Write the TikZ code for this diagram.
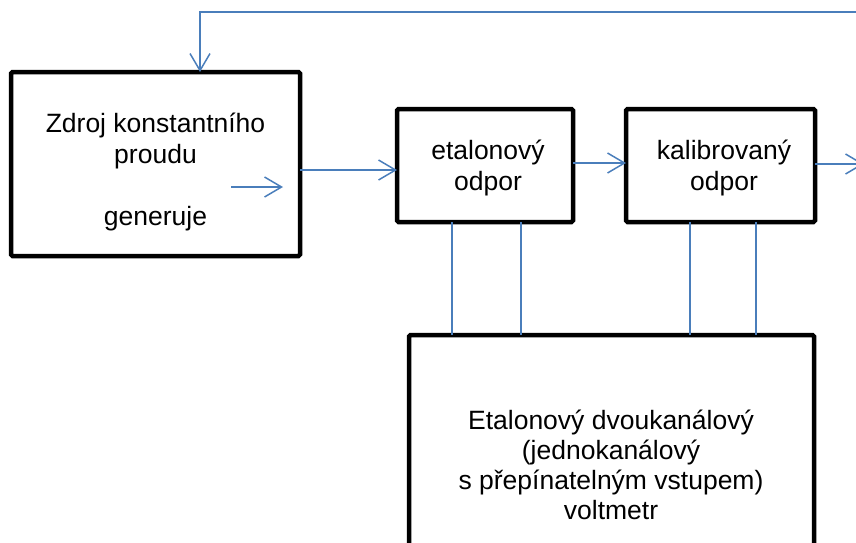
\documentclass[tikz,border=0pt]{standalone}
\usepackage{fontspec}
\setmainfont{Liberation Sans}
\usetikzlibrary{arrows.meta}
\definecolor{wireblue}{RGB}{74,126,187}
\tikzset{
  blockbox/.style={draw=black, line width=4.5pt, rounded corners=1.5pt, fill=white, inner sep=0pt, outer sep=0pt},
  wire/.style={draw=wireblue, line width=1.5pt},
  arrowtip/.style={-{Straight Barb[length=17pt,width=20pt]}},
  label/.style={font=\fontsize{26.5}{30}\selectfont, align=center, inner sep=0pt, anchor=base}
}
\begin{document}
\begin{tikzpicture}[x=1pt,y=-1pt]
\useasboundingbox (0,0) rectangle (856,542);
\clip (0,0) rectangle (856,542);

% blocks
\node[blockbox, minimum width=289pt, minimum height=184pt] (box1) at (155.5,164) {};
\node[blockbox, minimum width=176pt, minimum height=113pt] (box2) at (485,165.5) {};
\node[blockbox, minimum width=189pt, minimum height=113pt] (box3) at (720.5,165.5) {};
\node[blockbox, minimum width=405pt, minimum height=270pt] (box4) at (611.5,470) {};

% texts (base anchor = baseline of the last line)
\node[label, font=\fontsize{26.5}{31}\selectfont] (t1) at (155.5,225) {Zdroj konstantního\\proudu\\[31pt]generuje};
\node[label, font=\fontsize{26.5}{31}\selectfont] (t2) at (488,190) {etalonový\\odpor};
\node[label, font=\fontsize{26.5}{31}\selectfont] (t3) at (724,190) {kalibrovaný\\odpor};
\node[label] (t4) at (611,519) {Etalonový dvoukanálový\\(jednokanálový\\s přepínatelným vstupem)\\voltmetr};

% coordinates
\coordinate (fbR) at (870,12);
\coordinate (fbL) at (200,12);
\coordinate (gA) at (231,187);
\coordinate (gB) at (283,187);
\coordinate (out) at (864,164);

% connectors
\draw[wire, arrowtip] (fbR) -- (fbL) -- (fbL |- box1.north);
\draw[wire, arrowtip] (box1.east |- 0,170) -- (box2.west |- 0,170);
\draw[wire, arrowtip] (gA) -- (gB);
\draw[wire, arrowtip] (box2.east |- 0,163) -- (box3.west |- 0,163);
\draw[wire, arrowtip] (box3.east |- 0,164) -- (out);

\draw[wire] (box2.south -| 452,0) -- (box4.north -| 452,0);
\draw[wire] (box2.south -| 521,0) -- (box4.north -| 521,0);
\draw[wire] (box3.south -| 690,0) -- (box4.north -| 690,0);
\draw[wire] (box3.south -| 756,0) -- (box4.north -| 756,0);
\end{tikzpicture}
\end{document}
